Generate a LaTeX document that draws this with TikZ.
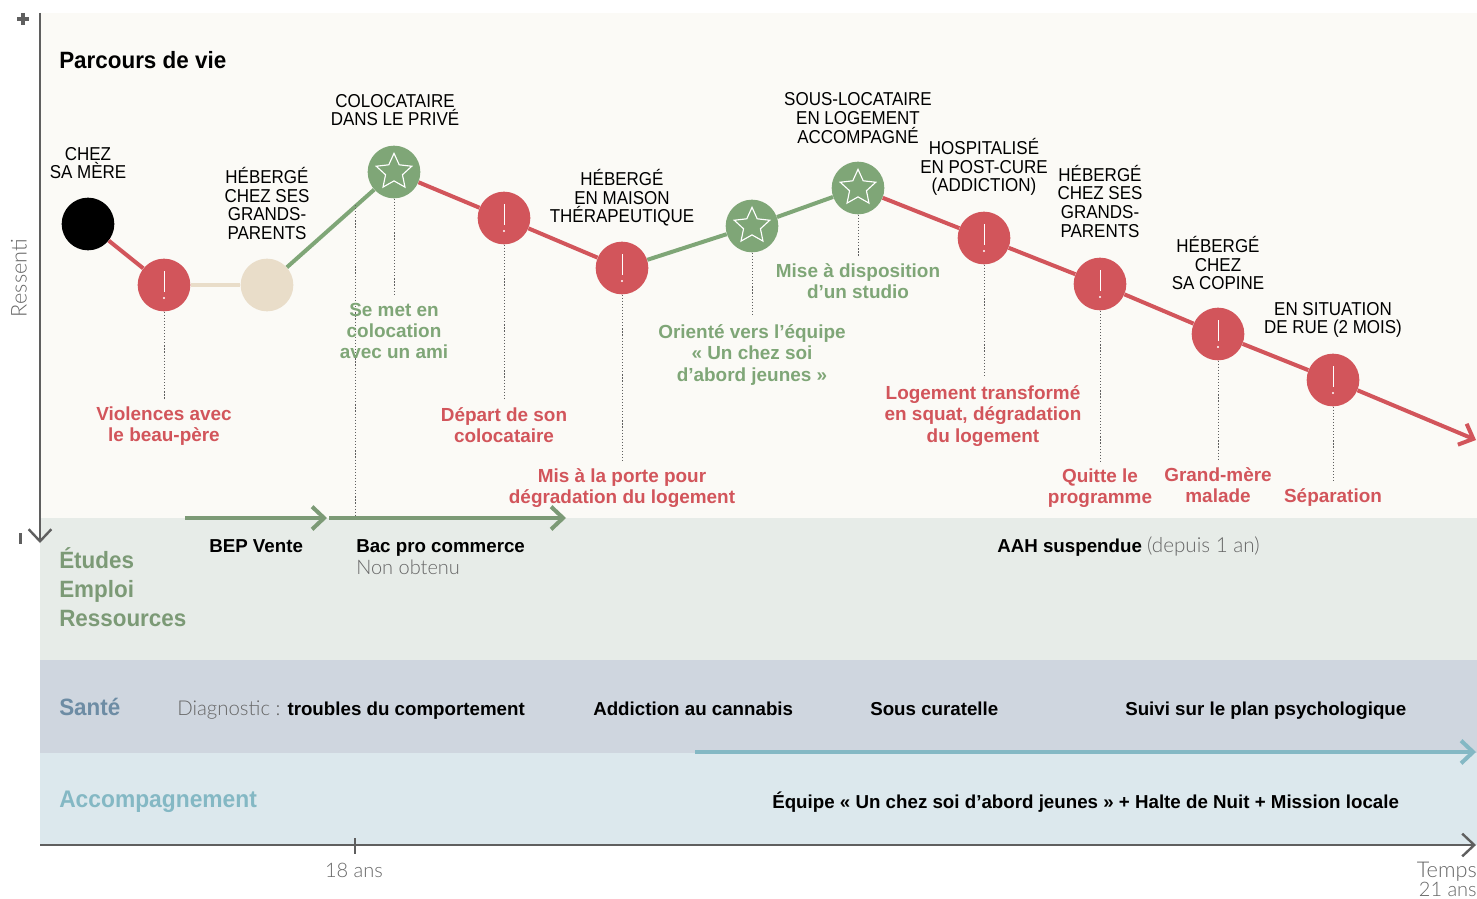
\documentclass[tikz,border=0pt]{standalone}
\usepackage{fontspec}
\setmainfont{Liberation Sans}
\newfontfamily\placef[FakeStretch=0.91]{Liberation Sans}
\newfontfamily\headf[FakeStretch=0.95]{Liberation Sans}
\newfontfamily\lightf{Lato Light}
\usetikzlibrary{arrows.meta,shapes.geometric}
\definecolor{axisgray}{HTML}{5F5F5F}
\definecolor{redc}{HTML}{D2555B}
\definecolor{greenc}{HTML}{7FA677}
\definecolor{greenl}{HTML}{7C9A76}
\definecolor{beigec}{HTML}{E9DDC9}
\definecolor{tealc}{HTML}{84B8C4}
\definecolor{santec}{HTML}{6D8CA4}
\definecolor{lightgray}{HTML}{666666}
\tikzset{
  x=0.75pt,y=-0.75pt,
  chev/.style={-{Straight Barb[length=9pt,width=17pt,line width=3pt]}},
  band/.style={draw=none},
  circ/.style={circle,minimum size=39.5pt,inner sep=0pt,draw=none},
  rednode/.style={circ,fill=redc},
  greennode/.style={circ,fill=greenc},
  link/.style={line width=3pt},
  dots/.style={line width=0.75pt,dash pattern=on 0.9pt off 1.4pt,draw=axisgray},
  place/.style={align=center,inner sep=0pt,font=\placef\fontsize{14}{14}\selectfont,text=black},
  eventr/.style={align=center,inner sep=0pt,font=\fontsize{14.2}{16}\selectfont\bfseries,text=redc},
  eventg/.style={align=center,inner sep=0pt,font=\fontsize{14.2}{16}\selectfont\bfseries,text=greenc},
  head/.style={anchor=base west,inner sep=0pt,font=\headf\fontsize{17.7}{21}\selectfont\bfseries},
  info/.style={anchor=base west,inner sep=0pt,font=\fontsize{14.05}{16}\selectfont},
  lightlab/.style={inner sep=0pt,font=\fontsize{15}{16}\selectfont\lightf,text=lightgray},
  lightbig/.style={lightlab,font=\fontsize{16.3}{16}\selectfont\lightf},
  starmark/.style={star,star points=5,star point ratio=2.1,minimum size=28pt,inner sep=0pt,draw=white,line width=0.85pt,fill=none},
}
\newcommand{\markbang}[1]{%
  \draw[white,line width=0.75pt] ([yshift=10.5pt]#1.center) -- ([yshift=-5.25pt]#1.center);
  \fill[white] ([yshift=-9.75pt]#1.center) circle (0.9pt);
}
\begin{document}
\begin{tikzpicture}
\useasboundingbox (0,0) rectangle (1477,899);
\fill[white] (0,0) rectangle (1477,899);
\fill[band,fill={rgb,255:red,251;green,250;blue,246}] (40,13) rectangle (1477,518);
\fill[band,fill={rgb,255:red,231;green,236;blue,232}] (40,518) rectangle (1477,660);
\fill[band,fill={rgb,255:red,207;green,214;blue,223}] (40,660) rectangle (1477,753);
\fill[band,fill={rgb,255:red,220;green,232;blue,237}] (40,753) rectangle (1477,845);

% nodes
\node[circ,fill=black] (n0) at (88,224) {};
\node[rednode] (n1) at (164,285) {};
\node[circ,fill=beigec] (n2) at (267,285) {};
\node[greennode] (n3) at (394,172) {};
\node[rednode] (n4) at (504,218) {};
\node[rednode] (n5) at (622,268) {};
\node[greennode] (n6) at (752,226) {};
\node[greennode] (n7) at (858,188) {};
\node[rednode] (n8) at (984,238) {};
\node[rednode] (n9) at (1100,284) {};
\node[rednode] (n10) at (1218,334) {};
\node[rednode] (n11) at (1333,380) {};
\coordinate (endp) at (1476,440);

% links
\draw[link,redc] (n0) -- (n1);
\draw[link,beigec] (n1) -- (n2);
\draw[link,greenc] (n2) -- (n3);
\draw[link,redc] (n3) -- (n4);
\draw[link,redc] (n4) -- (n5);
\draw[link,greenc] (n5) -- (n6);
\draw[link,greenc] (n6) -- (n7);
\draw[link,redc] (n7) -- (n8);
\draw[link,redc] (n8) -- (n9);
\draw[link,redc] (n9) -- (n10);
\draw[link,redc] (n10) -- (n11);
\draw[link,redc,chev] (n11) -- (endp);

% marks
\foreach \n in {n1,n4,n5,n8,n9,n10,n11}{\markbang{\n}}
\foreach \n in {n3,n6,n7}{\node[starmark] at (\n) {};}

% dotted leaders
\coordinate (d1) at (164,400);
\coordinate (d3) at (394,296);
\coordinate (d3b) at (355,518);
\coordinate (d3c) at (355,205);
\coordinate (d4) at (504,400);
\coordinate (d5) at (622,461);
\coordinate (d6) at (752,316);
\coordinate (d7) at (858,257);
\coordinate (d8) at (984,378);
\coordinate (d9) at (1100,461);
\coordinate (d10) at (1218,461);
\coordinate (d11) at (1333,483);
\draw[dots] (n1.south) -- (d1);
\draw[dots] (n3.south) -- (d3);
\draw[dots] (d3c) -- (d3b);
\draw[dots] (n4.south) -- (d4);
\draw[dots] (n5.south) -- (d5);
\draw[dots] (n6.south) -- (d6);
\draw[dots] (n7.south) -- (d7);
\draw[dots] (n8.south) -- (d8);
\draw[dots] (n9.south) -- (d9);
\draw[dots] (n10.south) -- (d10);
\draw[dots] (n11.south) -- (d11);

% place labels
\node[place] (p0) at (88,163) {CHEZ\\SA MÈRE};
\node[place] (p2) at (267,203.5) {HÉBERGÉ\\CHEZ SES\\GRANDS-\\PARENTS};
\node[place] (p3) at (395,110) {COLOCATAIRE\\DANS LE PRIVÉ};
\node[place] (p5) at (622,198) {HÉBERGÉ\\EN MAISON\\THÉRAPEUTIQUE};
\node[place] (p7) at (858,118) {SOUS-LOCATAIRE\\EN LOGEMENT\\ACCOMPAGNÉ};
\node[place] (p8) at (984,167) {HOSPITALISÉ\\EN POST-CURE\\(ADDICTION)};
\node[place] (p9) at (1100,201) {HÉBERGÉ\\CHEZ SES\\GRANDS-\\PARENTS};
\node[place] (p10) at (1218,263) {HÉBERGÉ\\CHEZ\\SA COPINE};
\node[place] (p11) at (1333,320) {EN SITUATION\\DE RUE (2 MOIS)};

% events
\node[eventr] (e1) at (164,426) {Violences avec\\le beau-père};
\node[eventg] (e3) at (394,331) {Se met en\\colocation\\avec un ami};
\node[eventr] (e4) at (504,425) {Départ de son\\colocataire};
\node[eventr] (e5) at (622,488) {Mis à la porte pour\\dégradation du logement};
\node[eventg] (e6) at (752,355) {Orienté vers l’équipe\\« Un chez soi\\d’abord jeunes »};
\node[eventg] (e7) at (858,281) {Mise à disposition\\d’un studio};
\node[eventr] (e8) at (983,416) {Logement transformé\\en squat, dégradation\\du logement};
\node[eventr] (e9) at (1100,488) {Quitte le\\programme};
\node[eventr] (e10) at (1218,485) {Grand-mère\\malade};
\node[eventr] (e11) at (1333,498) {Séparation};

% headings
\node[head,text=black] (t0) at (59,69) {Parcours de vie};
\node[head,text=greenl] (t1) at (59,568) {Études};
\node[head,text=greenl] (t2) at (59,597) {Emploi};
\node[head,text=greenl] (t3) at (59,626) {Ressources};
\node[head,text=santec] (t4) at (59,715) {Santé};
\node[head,text=tealc,font=\headf\fontsize{18}{21}\selectfont\bfseries] (t5) at (59,807) {Accompagnement};

% arrows in bands
\coordinate (a1) at (185,518);
\coordinate (a2) at (327,518);
\coordinate (a3) at (329,518);
\coordinate (a4) at (566,518);
\coordinate (a5) at (695,752);
\coordinate (a6) at (1476,752);
\draw[link,greenl,chev] (a1) -- (a2);
\draw[link,greenl,chev] (a3) -- (a4);
\draw[link,tealc,chev] (a5) -- (a6);

% info
\node[info] (i1) at (209,552) {\bfseries BEP Vente};
\node[info] (i2) at (356,552) {\bfseries Bac pro commerce};
\node[lightlab,anchor=base west] (i3) at (356,574) {Non obtenu};
\node[info] (i4) at (997,552) {\bfseries AAH suspendue {\mdseries\lightf\fontsize{15.5}{16}\selectfont\color{lightgray} (depuis 1 an)}};
\node[info] (i5) at (177,715) {{\lightf\fontsize{15.3}{16}\selectfont\color{lightgray}Diagnostic :} \bfseries troubles du comportement};
\node[info] (i6) at (593,715) {\bfseries Addiction au cannabis};
\node[info] (i7) at (870,715) {\bfseries Sous curatelle};
\node[info] (i8) at (1125,715) {\bfseries Suivi sur le plan psychologique};
\node[info] (i9) at (772,808) {\bfseries Équipe « Un chez soi d’abord jeunes » + Halte de Nuit + Mission locale};

% axes
\coordinate (o1) at (40,13);
\coordinate (o2) at (40,543);
\coordinate (o3) at (40,845);
\coordinate (o4) at (1476,845);
\draw[axisgray,line width=2.2pt,-{Straight Barb[length=9pt,width=17pt,line width=1.8pt]}] (o1) -- (o2);
\draw[axisgray,line width=2.2pt,-{Straight Barb[length=9pt,width=17pt,line width=1.8pt]}] (o3) -- (o4);
\coordinate (tk1) at (355,838);
\coordinate (tk2) at (355,854);
\draw[axisgray,line width=2.2pt] (tk1) -- (tk2);
\coordinate (m1) at (20.5,533);
\coordinate (m2) at (20.5,544);
\draw[axisgray,line width=2.2pt] (m1) -- (m2);
\coordinate (pl1) at (17,19);
\coordinate (pl2) at (29,19);
\coordinate (pl3) at (23,13);
\coordinate (pl4) at (23,25);
\draw[axisgray,line width=2.8pt] (pl1) -- (pl2);
\draw[axisgray,line width=2.8pt] (pl3) -- (pl4);
\node[lightbig,rotate=90] (r1) at (19,278) {Ressenti};
\node[lightlab,anchor=base] (x1) at (354,877) {18 ans};
\node[lightbig,anchor=base east] (x2) at (1477,877) {Temps};
\node[lightlab,anchor=base east] (x3) at (1477,896) {21 ans};
\end{tikzpicture}
\end{document}
